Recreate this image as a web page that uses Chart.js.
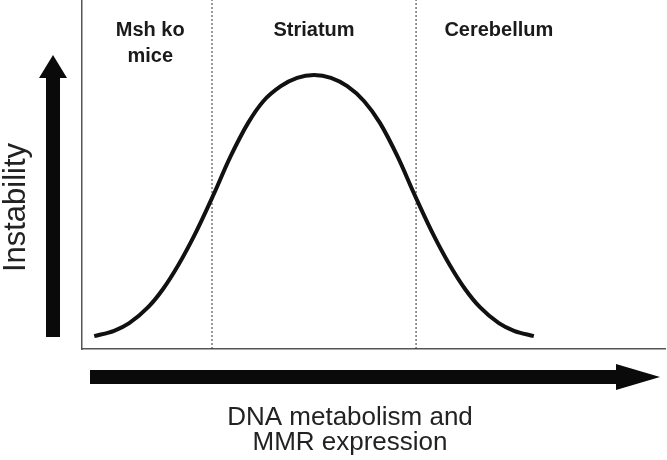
<!DOCTYPE html>
<html>
<head>
<meta charset="utf-8">
<script src="https://cdn.jsdelivr.net/npm/chart.js@4/dist/chart.umd.min.js"></script>
<style>
  body { margin: 0; background: #fff; }
</style>
</head>
<body>
<canvas id="mainChart" width="667" height="460"></canvas>
<script>
// 曲線の値（x: 横軸 0-100, y: 不安定性 0-100）
const curveX = [2.1, 5.5, 8.1, 11.3, 13.9, 16.5, 19.4, 22.5, 25.4, 28.5, 31.1, 34.1, 36.9, 39.8,
                42.7, 45.5, 48.4, 51.1, 54.2, 57.1, 60.2, 63.1, 65.7, 68.3, 71.5, 74.1, 77.5];
const curveY = [3.7, 5.2, 7.4, 11.9, 17.2, 24.0, 33.0, 44.0, 54.9, 64.8, 71.0, 75.3, 77.7, 78.5,
                77.7, 75.3, 71.0, 64.8, 54.9, 44.0, 33.0, 24.0, 17.2, 11.9, 7.4, 5.2, 3.7];

// 領域の境界（点線）と見出し
const boundaryX = [22.3, 57.3];
const regionNames = [['Msh ko', 'mice'], ['Striatum'], ['Cerebellum']];
const regionX = [11.7, 39.8, 71.5];

const yTitle = 'Instability';
const xTitle = ['DNA metabolism and', 'MMR expression'];

const FONT = '"Liberation Sans", Arial, Helvetica, sans-serif';

// 矢印と文字を描くプラグイン
const decor = {
    id: 'decor',
    afterDraw(chart) {
        const {ctx, chartArea: a, scales: {x}} = chart;
        ctx.save();
        ctx.fillStyle = '#0a0a0a';

        // 縦の矢印
        const vx = a.left - 29;
        ctx.fillRect(vx - 7, a.top + 76, 14, a.bottom - 12 - (a.top + 76));
        ctx.beginPath();
        ctx.moveTo(vx, a.top + 55);
        ctx.lineTo(vx + 14, a.top + 78);
        ctx.lineTo(vx - 14, a.top + 78);
        ctx.closePath();
        ctx.fill();

        // 横の矢印
        const hy = a.bottom + 28;
        ctx.fillRect(a.left + 8, hy - 7, a.right - 49 - (a.left + 8), 14);
        ctx.beginPath();
        ctx.moveTo(a.right - 5, hy);
        ctx.lineTo(a.right - 49, hy - 13);
        ctx.lineTo(a.right - 49, hy + 13);
        ctx.closePath();
        ctx.fill();

        // 領域の見出し
        ctx.fillStyle = '#1a1a1a';
        ctx.font = 'bold 20px ' + FONT;
        ctx.textAlign = 'center';
        ctx.textBaseline = 'alphabetic';
        regionNames.forEach((lines, i) => {
            lines.forEach((t, j) => {
                ctx.fillText(t, x.getPixelForValue(regionX[i]), a.top + 36 + j * 26);
            });
        });

        // 横軸の説明
        ctx.fillStyle = '#222';
        ctx.font = '26px ' + FONT;
        const cx = a.left + 268;
        xTitle.forEach((t, j) => ctx.fillText(t, cx, a.bottom + 76 + j * 25));

        // 縦軸の説明
        ctx.translate(a.left - 57, (a.top + a.bottom) / 2 + 33);
        ctx.rotate(-Math.PI / 2);
        ctx.font = '31px ' + FONT;
        ctx.fillText(yTitle, 0, 0);
        ctx.restore();
    }
};

const datasets = [{
    label: 'curve',
    data: curveX.map((v, i) => ({x: v, y: curveY[i]})),
    borderColor: '#111',
    borderWidth: 4,
    pointRadius: 0,
    cubicInterpolationMode: 'monotone',
    fill: false,
}];
boundaryX.forEach(b => {
    datasets.push({
        label: 'boundary',
        data: [{x: b, y: 0}, {x: b, y: 100}],
        borderColor: '#333',
        borderWidth: 1,
        borderDash: [2, 2],
        pointRadius: 0,
        fill: false,
    });
});

const noSize = (s) => { s.width = 0; s.height = 0; };

new Chart(document.getElementById('mainChart').getContext('2d'), {
    type: 'line',
    data: { datasets: datasets },
    options: {
        responsive: false,
        animation: false,
        layout: { padding: { left: 82, right: 2, top: 0, bottom: 111 } },
        plugins: { legend: { display: false }, tooltip: { enabled: false } },
        scales: {
            x: {
                type: 'linear', min: 0, max: 100,
                grid: { display: false },
                ticks: { display: false },
                border: { display: true, color: '#555', width: 1.5 },
                afterFit: noSize,
            },
            y: {
                type: 'linear', min: 0, max: 100,
                grid: { display: false },
                ticks: { display: false },
                border: { display: true, color: '#555', width: 1.5 },
                afterFit: noSize,
            },
        },
    },
    plugins: [decor],
});
</script>
</body>
</html>
